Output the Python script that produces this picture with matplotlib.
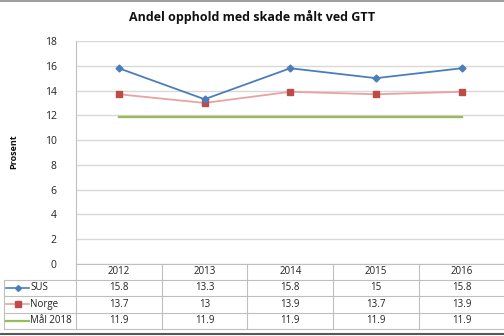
import matplotlib
matplotlib.use("Agg")
import matplotlib.pyplot as plt
from matplotlib.lines import Line2D

years = ["2012", "2013", "2014", "2015", "2016"]
sus = [15.8, 13.3, 15.8, 15, 15.8]
norge = [13.7, 13, 13.9, 13.7, 13.9]
maal = [11.9, 11.9, 11.9, 11.9, 11.9]
series_names = ["SUS", "Norge", "Mål 2018"]
title = "Andel opphold med skade målt ved GTT"
ylabel = "Prosent"
yticks = [0, 2, 4, 6, 8, 10, 12, 14, 16, 18]

W, H = 504, 336
fig = plt.figure(figsize=(W / 100, H / 100), dpi=100)
plt.rcParams['font.family'] = ['Open Sans', 'DejaVu Sans']

x0, x1 = 76, 504.5
ytop, ybot = 41, 264
ax = fig.add_axes([x0 / W, (H - ybot) / H, (x1 - x0) / W, (ybot - ytop) / H])
xs = list(range(len(years)))
ax.set_xlim(-0.5, len(years) - 0.5)
ax.set_ylim(0, 18)
ax.set_yticks(yticks)
ax.set_yticklabels([str(v) for v in yticks], fontsize=7.5, color="#222222")
ax.tick_params(axis="y", length=0, pad=14)
ax.set_xticks([])
ax.grid(axis="y", color="#d9d9d9", linewidth=1.0)
ax.set_axisbelow(True)
for s in ["top", "right", "bottom"]:
    ax.spines[s].set_visible(False)
ax.spines["left"].set_color("#bfbfbf")

c_sus = "#4a7ebb"
c_norge_line = "#e8a3a1"
c_norge_mk = "#be4b48"
c_maal = "#9bbb59"
ax.plot(xs, sus, color=c_sus, linewidth=1.3, marker="D", markersize=3.5, markerfacecolor=c_sus, markeredgecolor=c_sus, zorder=4)
ax.plot(xs, norge, color=c_norge_line, linewidth=1.3, marker="s", markersize=4.5, markerfacecolor=c_norge_mk, markeredgecolor=c_norge_mk, zorder=3)
ax.plot(xs, maal, color=c_maal, linewidth=1.7, zorder=2)

fig.text(252 / W, (H - 17) / H, title, ha="center", va="center", fontsize=9, fontweight="bold", color="#111111")
fig.text(14 / W, (H - 152) / H, ylabel, ha="center", va="center", rotation=90, fontsize=6.5, fontweight="bold", color="#111111")

# data table
row_y = [264, 280, 296, 312.5, 329]
tl = 4
gcol = "#bfbfbf"
def hline(y, xa, xb):
    fig.add_artist(Line2D([xa / W, xb / W], [(H - y) / H, (H - y) / H], color=gcol, linewidth=0.8))
def vline(x, ya, yb):
    fig.add_artist(Line2D([x / W, x / W], [(H - ya) / H, (H - yb) / H], color=gcol, linewidth=0.8))

hline(row_y[0], x0, W)
for y in row_y[1:]:
    hline(y, tl, W)
vline(tl, row_y[1], row_y[-1])
colw = (x1 - x0) / len(years)
for i in range(len(years) + 1):
    vline(x0 + i * colw, row_y[0], row_y[-1])

fs = 7
for i, yr in enumerate(years):
    cx = x0 + (i + 0.5) * colw
    fig.text(cx / W, (H - (row_y[0] + row_y[1]) / 2) / H, yr, ha="center", va="center", fontsize=fs, color="#222222")
rows = [sus, norge, maal]
for r, vals in enumerate(rows):
    cy = (row_y[r + 1] + row_y[r + 2]) / 2
    for i, v in enumerate(vals):
        cx = x0 + (i + 0.5) * colw
        fig.text(cx / W, (H - cy) / H, f"{v:g}", ha="center", va="center", fontsize=fs, color="#222222")
    fig.text(30 / W, (H - cy) / H, series_names[r], ha="left", va="center", fontsize=fs, color="#222222")

# legend keys
ky = [(row_y[k] + row_y[k + 1]) / 2 for k in range(1, 4)]
fig.add_artist(Line2D([6 / W, 29 / W], [(H - ky[0]) / H] * 2, color=c_sus, linewidth=1.2))
fig.add_artist(Line2D([17.5 / W], [(H - ky[0]) / H], color=c_sus, marker="D", markersize=3, linestyle="none"))
fig.add_artist(Line2D([6 / W, 29 / W], [(H - ky[1]) / H] * 2, color=c_norge_line, linewidth=1.2))
fig.add_artist(Line2D([17.5 / W], [(H - ky[1]) / H], color=c_norge_mk, marker="s", markersize=4, linestyle="none"))
fig.add_artist(Line2D([6 / W, 29 / W], [(H - ky[2]) / H] * 2, color=c_maal, linewidth=1.6))

# outer border lines
fig.add_artist(Line2D([0, 1], [1 - 1 / H, 1 - 1 / H], color="#8c8c8c", linewidth=1.2))
fig.add_artist(Line2D([0, 1], [2 / H, 2 / H], color="#595959", linewidth=1.5))

fig.savefig("out.png", dpi=100)
